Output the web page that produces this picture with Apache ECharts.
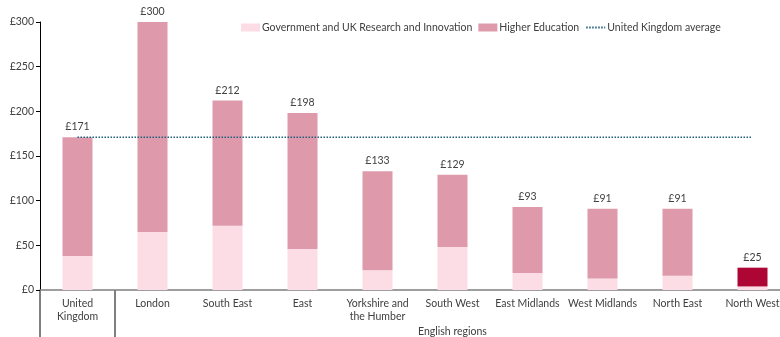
<!DOCTYPE html>
<html>
<head>
<meta charset="utf-8">
<script src="https://cdn.jsdelivr.net/npm/echarts@6/dist/echarts.min.js"></script>
<style>
  html, body { margin: 0; padding: 0; background: #ffffff; }
  #chart { width: 780px; height: 337px; }
</style>
</head>
<body>
<div id="chart"></div>
<script>
// Regions on the horizontal axis (UK first, then the English regions)
const categories = ['United\nKingdom', 'London', 'South East', 'East', 'Yorkshire and\nthe Humber',
  'South West', 'East Midlands', 'West Midlands', 'North East', 'North West'];

// Spend per head (£): government & UKRI share and the total per region
const govUkri = [38, 65, 72, 46, 22, 48, 19, 13, 16, 4];
const totals = [171, 300, 212, 198, 133, 129, 93, 91, 91, 25];
// Higher education share is what remains of each total
const higherEd = totals.map((t, i) => t - govUkri[i]);

const ukAverage = 171;
const yTicks = [0, 50, 100, 150, 200, 250, 300];

const highlightIndex = 9; // North West drawn in a darker tone

const FONT = 'Lato, "DejaVu Sans", sans-serif';
const TEXT = '#404040';

const chart = echarts.init(document.getElementById('chart'), null, { renderer: 'canvas' });

chart.setOption({
  animation: false,
  textStyle: { fontFamily: FONT, color: TEXT },
  legend: {
    top: 17,
    left: 236,
    itemGap: 6,
    itemWidth: 19,
    itemHeight: 8,
    textStyle: { fontSize: 10.5, color: TEXT, fontFamily: FONT, padding: [0, 0, 0, -3] },
    data: [
      { name: 'Government and UK Research and Innovation', icon: 'rect' },
      { name: 'Higher Education', icon: 'rect' },
      { name: 'United Kingdom average', itemStyle: { opacity: 0 } }
    ]
  },
  grid: { left: 40, right: -10, top: 22, height: 268, outerBoundsMode: 'none', containLabel: false },
  xAxis: {
    type: 'category',
    data: categories,
    axisLine: { lineStyle: { color: '#7f7f7f', width: 1.5 } },
    axisTick: { show: false },
    axisLabel: { fontSize: 10.5, color: TEXT, margin: 7, lineHeight: 13, interval: 0 }
  },
  yAxis: {
    type: 'value',
    min: yTicks[0],
    max: yTicks[yTicks.length - 1],
    interval: 50,
    splitLine: { show: false },
    axisLine: { show: true, lineStyle: { color: '#000000', width: 1 } },
    axisTick: { show: true, length: 4, lineStyle: { color: '#000000' } },
    axisLabel: { fontSize: 10.5, color: TEXT, margin: 6, formatter: v => '£' + v }
  },
  series: [
    {
      name: 'Government and UK Research and Innovation',
      type: 'bar',
      stack: 'spend',
      barWidth: 30,
      itemStyle: { color: '#fddde5' },
      data: govUkri
    },
    {
      name: 'Higher Education',
      type: 'bar',
      stack: 'spend',
      barWidth: 30,
      itemStyle: { color: '#de9aab' },
      label: {
        show: true,
        position: 'top',
        distance: 5,
        fontSize: 10.5,
        color: TEXT,
        fontFamily: FONT,
        formatter: p => '£' + totals[p.dataIndex]
      },
      data: higherEd.map((v, i) => i === highlightIndex
        ? { value: v, itemStyle: { color: '#ad0635' } }
        : v)
    },
    {
      name: 'United Kingdom average',
      type: 'line',
      symbol: 'none',
      z: 5,
      itemStyle: { color: '#1f5f7f' },
      lineStyle: { color: '#1f5f7f', width: 1.5, type: [1.5, 1.5] },
      data: categories.map(() => ukAverage)
    }
  ]
});

// Group dividers below the axis: extend the value axis downwards, separate the UK
// from the English regions, and caption the regional group.
function drawGroupMarks() {
  const [x0, y0] = chart.convertToPixel({ gridIndex: 0 }, [0, 0]);
  const [x1] = chart.convertToPixel({ gridIndex: 0 }, [1, 0]);
  const [xLast] = chart.convertToPixel({ gridIndex: 0 }, [categories.length - 1, 0]);
  const band = x1 - x0;
  const axisLeft = x0 - band / 2;
  const divider = x0 + band / 2;
  const bottom = 337;
  chart.setOption({
    graphic: [
      { type: 'line', shape: { x1: axisLeft, y1: y0, x2: axisLeft, y2: bottom },
        style: { stroke: '#000000', lineWidth: 1 }, silent: true },
      { type: 'line', shape: { x1: divider, y1: y0, x2: divider, y2: bottom },
        style: { stroke: '#000000', lineWidth: 1 }, silent: true },
      { type: 'text', x: (x1 + xLast) / 2, y: bottom - 5,
        style: { text: 'English regions', fill: TEXT, font: '10.5px ' + FONT,
                 align: 'center', verticalAlign: 'middle' }, silent: true }
    ]
  });
}
drawGroupMarks();
</script>
</body>
</html>
